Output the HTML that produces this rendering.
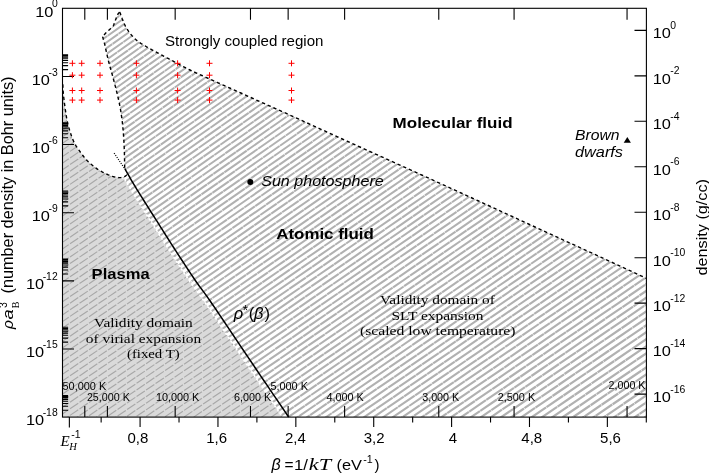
<!DOCTYPE html>
<html><head><meta charset="utf-8"><title>Phase diagram</title>
<style>html,body{margin:0;padding:0;background:#fff;}svg{display:block;will-change:transform;}</style></head>
<body>
<svg width="709" height="474" viewBox="0 0 709 474">
<defs>
<clipPath id="cpP"><path d="M62.50 84.40 L62.80 84.40 L62.82 84.81 L62.85 85.30 L62.87 85.88 L62.90 86.53 L62.93 87.24 L62.97 87.99 L63.01 88.79 L63.06 89.61 L63.11 90.46 L63.16 91.31 L63.23 92.16 L63.30 93.00 L63.38 93.84 L63.46 94.69 L63.55 95.56 L63.64 96.44 L63.74 97.34 L63.84 98.27 L63.95 99.21 L64.07 100.18 L64.19 101.17 L64.32 102.19 L64.46 103.23 L64.60 104.30 L64.75 105.42 L64.91 106.60 L65.08 107.82 L65.25 109.09 L65.43 110.37 L65.61 111.67 L65.80 112.97 L66.00 114.25 L66.19 115.51 L66.39 116.72 L66.60 117.89 L66.80 119.00 L67.00 120.04 L67.20 121.03 L67.40 121.98 L67.60 122.90 L67.80 123.79 L68.01 124.66 L68.22 125.53 L68.45 126.39 L68.69 127.26 L68.94 128.15 L69.21 129.06 L69.50 130.00 L69.81 130.98 L70.13 131.99 L70.47 133.02 L70.82 134.06 L71.19 135.12 L71.56 136.17 L71.95 137.22 L72.34 138.25 L72.75 139.26 L73.16 140.24 L73.58 141.19 L74.00 142.10 L74.43 142.96 L74.86 143.79 L75.30 144.58 L75.74 145.34 L76.19 146.08 L76.66 146.81 L77.13 147.53 L77.61 148.25 L78.11 148.97 L78.63 149.69 L79.15 150.44 L79.70 151.20 L80.26 151.98 L80.84 152.78 L81.42 153.58 L82.03 154.40 L82.64 155.21 L83.27 156.02 L83.91 156.83 L84.56 157.64 L85.23 158.43 L85.91 159.20 L86.60 159.96 L87.30 160.70 L88.03 161.43 L88.79 162.15 L89.58 162.88 L90.40 163.60 L91.22 164.30 L92.05 164.99 L92.88 165.67 L93.69 166.31 L94.49 166.94 L95.26 167.53 L96.00 168.08 L96.70 168.60 L97.35 169.07 L97.97 169.50 L98.55 169.88 L99.10 170.24 L99.64 170.56 L100.16 170.87 L100.68 171.16 L101.21 171.44 L101.75 171.72 L102.30 172.00 L102.89 172.29 L103.50 172.60 L104.15 172.92 L104.83 173.25 L105.53 173.58 L106.24 173.91 L106.97 174.24 L107.70 174.56 L108.43 174.88 L109.16 175.18 L109.87 175.46 L110.57 175.73 L111.25 175.98 L111.90 176.20 L112.53 176.40 L113.15 176.58 L113.77 176.75 L114.38 176.90 L114.97 177.03 L115.56 177.15 L116.12 177.26 L116.68 177.35 L117.21 177.43 L117.73 177.50 L118.23 177.55 L118.70 177.60 L119.15 177.63 L119.58 177.65 L119.99 177.65 L120.38 177.63 L120.60 177.60 L124.24 178.56 L125.39 180.56 L126.63 182.66 L127.94 184.88 L129.33 187.19 L130.80 189.60 L132.41 192.21 L134.21 195.10 L136.17 198.22 L138.24 201.51 L140.39 204.91 L142.58 208.38 L144.78 211.84 L146.95 215.26 L149.06 218.57 L151.06 221.72 L152.92 224.64 L154.60 227.30 L156.10 229.67 L157.46 231.81 L158.69 233.77 L159.83 235.57 L160.90 237.27 L161.94 238.91 L162.96 240.51 L163.99 242.14 L165.07 243.82 L166.21 245.59 L167.44 247.51 L168.80 249.60 L170.28 251.88 L171.86 254.31 L173.51 256.86 L175.22 259.49 L176.98 262.18 L178.75 264.89 L180.53 267.60 L182.29 270.28 L184.02 272.89 L185.69 275.40 L187.29 277.78 L188.80 280.00 L190.17 281.98 L191.38 283.69 L192.48 285.21 L193.50 286.59 L194.48 287.91 L195.47 289.23 L196.51 290.61 L197.64 292.12 L198.89 293.83 L200.30 295.80 L201.93 298.10 L203.80 300.80 L205.99 304.00 L208.51 307.69 L211.28 311.79 L214.25 316.18 L217.34 320.77 L220.49 325.45 L223.64 330.13 L226.72 334.71 L229.66 339.09 L232.40 343.16 L234.87 346.83 L237.00 350.00 L238.76 352.60 L240.18 354.71 L241.33 356.42 L242.27 357.83 L243.08 359.03 L243.82 360.13 L244.56 361.22 L245.36 362.41 L246.29 363.78 L247.41 365.44 L248.79 367.48 L250.50 370.00 L252.62 373.13 L255.13 376.83 L257.95 380.97 L260.98 385.44 L264.14 390.09 L267.34 394.80 L270.50 399.44 L273.52 403.89 L276.32 408.00 L278.80 411.66 L280.89 414.74 L282.50 417.10 L62.50 417.10 Z"/></clipPath>
<clipPath id="cpS"><path d="M124.70 168.50 L124.69 167.75 L124.67 166.82 L124.66 165.73 L124.64 164.50 L124.62 163.16 L124.59 161.74 L124.57 160.28 L124.54 158.78 L124.51 157.29 L124.48 155.83 L124.44 154.42 L124.40 153.10 L124.36 151.83 L124.31 150.57 L124.27 149.31 L124.22 148.05 L124.17 146.79 L124.11 145.54 L124.05 144.28 L123.99 143.03 L123.93 141.78 L123.86 140.52 L123.78 139.26 L123.70 138.00 L123.61 136.73 L123.53 135.45 L123.43 134.16 L123.33 132.87 L123.23 131.58 L123.12 130.29 L123.01 129.00 L122.90 127.73 L122.78 126.47 L122.66 125.22 L122.53 124.00 L122.40 122.80 L122.26 121.61 L122.12 120.43 L121.97 119.25 L121.81 118.09 L121.65 116.93 L121.49 115.79 L121.32 114.68 L121.16 113.58 L120.99 112.51 L120.82 111.47 L120.66 110.47 L120.50 109.50 L120.34 108.58 L120.19 107.71 L120.04 106.89 L119.89 106.11 L119.74 105.35 L119.59 104.61 L119.44 103.87 L119.29 103.14 L119.12 102.39 L118.96 101.63 L118.78 100.83 L118.60 100.00 L118.41 99.14 L118.22 98.28 L118.02 97.40 L117.81 96.52 L117.61 95.62 L117.39 94.72 L117.18 93.80 L116.95 92.87 L116.72 91.93 L116.49 90.97 L116.25 89.99 L116.00 89.00 L115.75 87.99 L115.48 86.95 L115.21 85.89 L114.93 84.81 L114.65 83.73 L114.36 82.62 L114.07 81.52 L113.78 80.41 L113.48 79.30 L113.19 78.19 L112.89 77.09 L112.60 76.00 L112.30 74.91 L112.00 73.81 L111.69 72.70 L111.38 71.59 L111.06 70.48 L110.75 69.38 L110.44 68.27 L110.13 67.19 L109.83 66.11 L109.54 65.05 L109.27 64.01 L109.00 63.00 L108.75 62.00 L108.50 61.01 L108.26 60.03 L108.03 59.07 L107.80 58.11 L107.58 57.17 L107.37 56.26 L107.16 55.36 L106.96 54.48 L106.77 53.62 L106.58 52.80 L106.40 52.00 L106.23 51.23 L106.06 50.48 L105.90 49.75 L105.75 49.04 L105.61 48.36 L105.47 47.70 L105.33 47.06 L105.20 46.44 L105.08 45.85 L104.95 45.28 L104.82 44.73 L104.70 44.20 L104.58 43.70 L104.45 43.23 L104.34 42.79 L104.22 42.37 L104.10 41.98 L103.99 41.60 L103.89 41.24 L103.78 40.90 L103.68 40.56 L103.58 40.24 L103.49 39.92 L103.40 39.60 L103.31 39.28 L103.23 38.97 L103.15 38.67 L103.07 38.37 L102.99 38.08 L102.92 37.81 L102.85 37.56 L102.79 37.32 L102.73 37.10 L102.68 36.91 L102.64 36.74 L102.60 36.60 L102.60 36.60 L102.96 36.19 L103.45 35.61 L104.04 34.94 L104.68 34.21 L105.35 33.48 L106.00 32.80 L106.67 32.16 L107.39 31.50 L108.13 30.84 L108.87 30.20 L109.57 29.58 L110.20 29.00 L110.77 28.48 L111.31 28.01 L111.81 27.57 L112.27 27.13 L112.70 26.65 L113.10 26.10 L113.44 25.51 L113.72 24.89 L113.97 24.24 L114.21 23.54 L114.48 22.77 L114.80 21.90 L115.19 20.87 L115.62 19.68 L116.08 18.42 L116.54 17.17 L116.99 16.04 L117.40 15.10 L117.80 14.36 L118.21 13.74 L118.61 13.22 L118.97 12.81 L119.28 12.47 L119.50 12.20 L119.50 12.20 L119.53 12.24 L119.57 12.27 L119.60 12.28 L119.64 12.30 L119.69 12.33 L119.74 12.38 L119.81 12.44 L119.88 12.54 L119.96 12.68 L120.06 12.86 L120.17 13.10 L120.30 13.40 L120.45 13.77 L120.61 14.21 L120.79 14.71 L120.99 15.26 L121.20 15.84 L121.41 16.46 L121.64 17.09 L121.87 17.73 L122.10 18.38 L122.33 19.01 L122.57 19.62 L122.80 20.20 L123.03 20.76 L123.26 21.33 L123.50 21.90 L123.73 22.47 L123.97 23.04 L124.22 23.61 L124.47 24.17 L124.72 24.73 L124.98 25.28 L125.25 25.83 L125.52 26.37 L125.80 26.90 L126.09 27.42 L126.38 27.94 L126.68 28.46 L126.99 28.97 L127.31 29.48 L127.62 29.97 L127.95 30.47 L128.27 30.95 L128.60 31.43 L128.93 31.90 L129.27 32.35 L129.60 32.80 L129.93 33.23 L130.27 33.65 L130.60 34.06 L130.94 34.46 L131.28 34.85 L131.62 35.23 L131.97 35.61 L132.32 35.99 L132.68 36.36 L133.04 36.74 L133.42 37.12 L133.80 37.50 L134.18 37.88 L134.55 38.26 L134.92 38.64 L135.29 39.01 L135.66 39.38 L136.04 39.75 L136.45 40.12 L136.87 40.50 L137.32 40.89 L137.81 41.28 L138.33 41.69 L138.90 42.10 L139.50 42.52 L140.11 42.93 L140.73 43.34 L141.38 43.75 L142.06 44.17 L142.77 44.59 L143.52 45.04 L144.31 45.50 L145.15 45.98 L146.04 46.49 L146.99 47.03 L148.00 47.60 L149.10 48.22 L150.30 48.89 L151.59 49.59 L152.93 50.33 L154.33 51.09 L155.76 51.86 L157.20 52.64 L158.63 53.41 L160.05 54.18 L161.43 54.92 L162.75 55.63 L164.00 56.30 L165.19 56.94 L166.34 57.56 L167.46 58.15 L168.56 58.74 L169.63 59.31 L170.69 59.87 L171.74 60.42 L172.78 60.97 L173.82 61.52 L174.87 62.08 L175.93 62.63 L177.00 63.20 L178.04 63.75 L179.02 64.28 L179.96 64.79 L180.87 65.30 L181.79 65.80 L182.72 66.31 L183.70 66.83 L184.75 67.38 L185.88 67.96 L187.12 68.59 L188.48 69.27 L190.00 70.00 L191.68 70.80 L193.52 71.66 L195.48 72.57 L197.55 73.52 L199.70 74.50 L201.92 75.51 L204.19 76.54 L206.47 77.57 L208.76 78.60 L211.02 79.62 L213.24 80.63 L215.40 81.60 L217.52 82.56 L219.63 83.51 L221.75 84.46 L223.87 85.41 L225.99 86.36 L228.11 87.31 L230.22 88.26 L232.34 89.21 L234.46 90.15 L236.57 91.10 L238.69 92.05 L240.80 93.00 L242.91 93.95 L245.02 94.90 L247.13 95.85 L249.24 96.80 L251.34 97.75 L253.45 98.70 L255.56 99.65 L257.66 100.60 L259.77 101.55 L261.88 102.50 L263.99 103.45 L266.10 104.40 L268.13 105.31 L270.03 106.16 L271.85 106.97 L273.62 107.76 L275.39 108.55 L277.21 109.36 L279.11 110.21 L281.15 111.13 L283.36 112.12 L285.80 113.22 L288.49 114.44 L291.50 115.80 L294.80 117.30 L298.35 118.92 L302.11 120.64 L306.07 122.45 L310.21 124.34 L314.50 126.31 L318.93 128.33 L323.46 130.41 L328.09 132.52 L332.79 134.67 L337.53 136.83 L342.30 139.00 L347.15 141.20 L352.16 143.47 L357.29 145.80 L362.53 148.17 L367.86 150.58 L373.26 153.02 L378.71 155.48 L384.20 157.97 L389.70 160.46 L395.19 162.95 L400.67 165.43 L406.10 167.90 L411.49 170.35 L416.87 172.80 L422.24 175.25 L427.61 177.70 L432.99 180.15 L438.41 182.63 L443.85 185.11 L449.35 187.63 L454.90 190.17 L460.52 192.74 L466.21 195.35 L472.00 198.00 L477.96 200.74 L484.15 203.58 L490.49 206.50 L496.96 209.47 L503.47 212.47 L509.99 215.48 L516.46 218.45 L522.82 221.39 L529.02 224.24 L535.00 227.00 L540.71 229.62 L546.10 232.10 L551.15 234.42 L555.93 236.61 L560.47 238.69 L564.81 240.68 L568.98 242.59 L573.04 244.45 L577.01 246.27 L580.93 248.06 L584.84 249.86 L588.78 251.66 L592.79 253.51 L596.90 255.40 L601.23 257.40 L605.80 259.50 L610.53 261.69 L615.33 263.91 L620.12 266.13 L624.82 268.31 L629.35 270.40 L633.61 272.38 L637.54 274.19 L641.03 275.81 L644.01 277.19 L646.40 278.30 L646.40 417.10 L282.50 417.10 L280.89 414.74 L278.80 411.66 L276.32 408.00 L273.52 403.89 L270.50 399.44 L267.34 394.80 L264.14 390.09 L260.98 385.44 L257.95 380.97 L255.13 376.83 L252.62 373.13 L250.50 370.00 L248.79 367.48 L247.41 365.44 L246.29 363.78 L245.36 362.41 L244.56 361.22 L243.82 360.13 L243.08 359.03 L242.27 357.83 L241.33 356.42 L240.18 354.71 L238.76 352.60 L237.00 350.00 L234.87 346.83 L232.40 343.16 L229.66 339.09 L226.72 334.71 L223.64 330.13 L220.49 325.45 L217.34 320.77 L214.25 316.18 L211.28 311.79 L208.51 307.69 L205.99 304.00 L203.80 300.80 L201.93 298.10 L200.30 295.80 L198.89 293.83 L197.64 292.12 L196.51 290.61 L195.47 289.23 L194.48 287.91 L193.50 286.59 L192.48 285.21 L191.38 283.69 L190.17 281.98 L188.80 280.00 L187.29 277.78 L185.69 275.40 L184.02 272.89 L182.29 270.28 L180.53 267.60 L178.75 264.89 L176.98 262.18 L175.22 259.49 L173.51 256.86 L171.86 254.31 L170.28 251.88 L168.80 249.60 L167.44 247.51 L166.21 245.59 L165.07 243.82 L163.99 242.14 L162.96 240.51 L161.94 238.91 L160.90 237.27 L159.83 235.57 L158.69 233.77 L157.46 231.81 L156.10 229.67 L154.60 227.30 L152.92 224.64 L151.06 221.72 L149.06 218.57 L146.95 215.26 L144.78 211.84 L142.58 208.38 L140.39 204.91 L138.24 201.51 L136.17 198.22 L134.21 195.10 L132.41 192.21 L130.80 189.60 L129.33 187.19 L127.94 184.88 L126.63 182.66 L125.39 180.56 L124.24 178.56 L120.60 177.60 L120.75 177.61 L121.11 177.57 L121.46 177.52 L121.79 177.47 L122.10 177.41 L122.41 177.34 L122.71 177.27 L123.00 177.20 L123.28 177.13 L123.54 177.05 L123.79 176.96 L124.03 176.87 L124.25 176.77 L124.46 176.67 L124.67 176.56 L124.86 176.44 L125.05 176.32 L125.24 176.18 L125.42 176.05 L125.60 175.90 L125.78 175.74 L125.96 175.55 L126.13 175.34 L126.30 175.12 L126.46 174.90 L126.61 174.67 L126.76 174.45 L126.89 174.23 L127.02 174.04 L127.13 173.86 L127.22 173.71 L127.30 173.60 Z"/></clipPath>
<mask id="mk" maskUnits="userSpaceOnUse" x="0" y="0" width="709" height="474"><rect width="709" height="474" fill="#fff"/></mask>
</defs>
<rect width="709" height="474" fill="#fff"/>
<path d="M62.50 84.40 L62.80 84.40 L62.82 84.81 L62.85 85.30 L62.87 85.88 L62.90 86.53 L62.93 87.24 L62.97 87.99 L63.01 88.79 L63.06 89.61 L63.11 90.46 L63.16 91.31 L63.23 92.16 L63.30 93.00 L63.38 93.84 L63.46 94.69 L63.55 95.56 L63.64 96.44 L63.74 97.34 L63.84 98.27 L63.95 99.21 L64.07 100.18 L64.19 101.17 L64.32 102.19 L64.46 103.23 L64.60 104.30 L64.75 105.42 L64.91 106.60 L65.08 107.82 L65.25 109.09 L65.43 110.37 L65.61 111.67 L65.80 112.97 L66.00 114.25 L66.19 115.51 L66.39 116.72 L66.60 117.89 L66.80 119.00 L67.00 120.04 L67.20 121.03 L67.40 121.98 L67.60 122.90 L67.80 123.79 L68.01 124.66 L68.22 125.53 L68.45 126.39 L68.69 127.26 L68.94 128.15 L69.21 129.06 L69.50 130.00 L69.81 130.98 L70.13 131.99 L70.47 133.02 L70.82 134.06 L71.19 135.12 L71.56 136.17 L71.95 137.22 L72.34 138.25 L72.75 139.26 L73.16 140.24 L73.58 141.19 L74.00 142.10 L74.43 142.96 L74.86 143.79 L75.30 144.58 L75.74 145.34 L76.19 146.08 L76.66 146.81 L77.13 147.53 L77.61 148.25 L78.11 148.97 L78.63 149.69 L79.15 150.44 L79.70 151.20 L80.26 151.98 L80.84 152.78 L81.42 153.58 L82.03 154.40 L82.64 155.21 L83.27 156.02 L83.91 156.83 L84.56 157.64 L85.23 158.43 L85.91 159.20 L86.60 159.96 L87.30 160.70 L88.03 161.43 L88.79 162.15 L89.58 162.88 L90.40 163.60 L91.22 164.30 L92.05 164.99 L92.88 165.67 L93.69 166.31 L94.49 166.94 L95.26 167.53 L96.00 168.08 L96.70 168.60 L97.35 169.07 L97.97 169.50 L98.55 169.88 L99.10 170.24 L99.64 170.56 L100.16 170.87 L100.68 171.16 L101.21 171.44 L101.75 171.72 L102.30 172.00 L102.89 172.29 L103.50 172.60 L104.15 172.92 L104.83 173.25 L105.53 173.58 L106.24 173.91 L106.97 174.24 L107.70 174.56 L108.43 174.88 L109.16 175.18 L109.87 175.46 L110.57 175.73 L111.25 175.98 L111.90 176.20 L112.53 176.40 L113.15 176.58 L113.77 176.75 L114.38 176.90 L114.97 177.03 L115.56 177.15 L116.12 177.26 L116.68 177.35 L117.21 177.43 L117.73 177.50 L118.23 177.55 L118.70 177.60 L119.15 177.63 L119.58 177.65 L119.99 177.65 L120.38 177.63 L120.60 177.60 L124.24 178.56 L125.39 180.56 L126.63 182.66 L127.94 184.88 L129.33 187.19 L130.80 189.60 L132.41 192.21 L134.21 195.10 L136.17 198.22 L138.24 201.51 L140.39 204.91 L142.58 208.38 L144.78 211.84 L146.95 215.26 L149.06 218.57 L151.06 221.72 L152.92 224.64 L154.60 227.30 L156.10 229.67 L157.46 231.81 L158.69 233.77 L159.83 235.57 L160.90 237.27 L161.94 238.91 L162.96 240.51 L163.99 242.14 L165.07 243.82 L166.21 245.59 L167.44 247.51 L168.80 249.60 L170.28 251.88 L171.86 254.31 L173.51 256.86 L175.22 259.49 L176.98 262.18 L178.75 264.89 L180.53 267.60 L182.29 270.28 L184.02 272.89 L185.69 275.40 L187.29 277.78 L188.80 280.00 L190.17 281.98 L191.38 283.69 L192.48 285.21 L193.50 286.59 L194.48 287.91 L195.47 289.23 L196.51 290.61 L197.64 292.12 L198.89 293.83 L200.30 295.80 L201.93 298.10 L203.80 300.80 L205.99 304.00 L208.51 307.69 L211.28 311.79 L214.25 316.18 L217.34 320.77 L220.49 325.45 L223.64 330.13 L226.72 334.71 L229.66 339.09 L232.40 343.16 L234.87 346.83 L237.00 350.00 L238.76 352.60 L240.18 354.71 L241.33 356.42 L242.27 357.83 L243.08 359.03 L243.82 360.13 L244.56 361.22 L245.36 362.41 L246.29 363.78 L247.41 365.44 L248.79 367.48 L250.50 370.00 L252.62 373.13 L255.13 376.83 L257.95 380.97 L260.98 385.44 L264.14 390.09 L267.34 394.80 L270.50 399.44 L273.52 403.89 L276.32 408.00 L278.80 411.66 L280.89 414.74 L282.50 417.10 L62.50 417.10 Z" fill="#dadada"/>
<g clip-path="url(#cpP)"><path d="M60.50 58.86 L300.00 -104.00 M60.50 65.46 L300.00 -97.40 M60.50 72.06 L300.00 -90.80 M60.50 78.66 L300.00 -84.20 M60.50 85.26 L300.00 -77.60 M60.50 91.86 L300.00 -71.00 M60.50 98.46 L300.00 -64.40 M60.50 105.06 L300.00 -57.80 M60.50 111.66 L300.00 -51.20 M60.50 118.26 L300.00 -44.60 M60.50 124.86 L300.00 -38.00 M60.50 131.46 L300.00 -31.40 M60.50 138.06 L300.00 -24.80 M60.50 144.66 L300.00 -18.20 M60.50 151.26 L300.00 -11.60 M60.50 157.86 L300.00 -5.00 M60.50 164.46 L300.00 1.60 M60.50 171.06 L300.00 8.20 M60.50 177.66 L300.00 14.80 M60.50 184.26 L300.00 21.40 M60.50 190.86 L300.00 28.00 M60.50 197.46 L300.00 34.60 M60.50 204.06 L300.00 41.20 M60.50 210.66 L300.00 47.80 M60.50 217.26 L300.00 54.40 M60.50 223.86 L300.00 61.00 M60.50 230.46 L300.00 67.60 M60.50 237.06 L300.00 74.20 M60.50 243.66 L300.00 80.80 M60.50 250.26 L300.00 87.40 M60.50 256.86 L300.00 94.00 M60.50 263.46 L300.00 100.60 M60.50 270.06 L300.00 107.20 M60.50 276.66 L300.00 113.80 M60.50 283.26 L300.00 120.40 M60.50 289.86 L300.00 127.00 M60.50 296.46 L300.00 133.60 M60.50 303.06 L300.00 140.20 M60.50 309.66 L300.00 146.80 M60.50 316.26 L300.00 153.40 M60.50 322.86 L300.00 160.00 M60.50 329.46 L300.00 166.60 M60.50 336.06 L300.00 173.20 M60.50 342.66 L300.00 179.80 M60.50 349.26 L300.00 186.40 M60.50 355.86 L300.00 193.00 M60.50 362.46 L300.00 199.60 M60.50 369.06 L300.00 206.20 M60.50 375.66 L300.00 212.80 M60.50 382.26 L300.00 219.40 M60.50 388.86 L300.00 226.00 M60.50 395.46 L300.00 232.60 M60.50 402.06 L300.00 239.20 M60.50 408.66 L300.00 245.80 M60.50 415.26 L300.00 252.40 M60.50 421.86 L300.00 259.00 M60.50 428.46 L300.00 265.60 M60.50 435.06 L300.00 272.20 M60.50 441.66 L300.00 278.80 M60.50 448.26 L300.00 285.40 M60.50 454.86 L300.00 292.00 M60.50 461.46 L300.00 298.60 M60.50 468.06 L300.00 305.20 M60.50 474.66 L300.00 311.80 M60.50 481.26 L300.00 318.40 M60.50 487.86 L300.00 325.00 M60.50 494.46 L300.00 331.60 M60.50 501.06 L300.00 338.20 M60.50 507.66 L300.00 344.80 M60.50 514.26 L300.00 351.40 M60.50 520.86 L300.00 358.00 M60.50 527.46 L300.00 364.60 M60.50 534.06 L300.00 371.20 M60.50 540.66 L300.00 377.80 M60.50 547.26 L300.00 384.40 M60.50 553.86 L300.00 391.00 M60.50 560.46 L300.00 397.60 M60.50 567.06 L300.00 404.20 M60.50 573.66 L300.00 410.80 M60.50 580.26 L300.00 417.40 M60.50 586.86 L300.00 424.00 M60.50 593.46 L300.00 430.60 M60.50 600.06 L300.00 437.20 M60.50 606.66 L300.00 443.80 M60.50 613.26 L300.00 450.40 M60.50 619.86 L300.00 457.00 M60.50 626.46 L300.00 463.60 M60.50 633.06 L300.00 470.20 M60.50 639.66 L300.00 476.80 M60.50 646.26 L300.00 483.40 M60.50 652.86 L300.00 490.00" stroke="#a8a8a8" stroke-width="1.15" fill="none" stroke-dasharray="10 1.5"/></g>
<g clip-path="url(#cpS)" stroke="#b1b1b1" fill="none" stroke-dasharray="20.1 0.5">
<path d="M60.50 17.05 L648.40 -400.36" stroke-width="1.94" stroke-dashoffset="0.0"/><path d="M60.50 22.84 L648.40 -394.56" stroke-width="1.94" stroke-dashoffset="7.3"/><path d="M60.50 28.64 L648.40 -388.76" stroke-width="1.94" stroke-dashoffset="14.6"/><path d="M60.50 34.44 L648.40 -382.96" stroke-width="1.94" stroke-dashoffset="1.3"/><path d="M60.50 40.24 L648.40 -377.16" stroke-width="1.94" stroke-dashoffset="8.6"/><path d="M60.50 46.04 L648.40 -371.36" stroke-width="1.94" stroke-dashoffset="15.9"/><path d="M60.50 51.84 L648.40 -365.56" stroke-width="1.94" stroke-dashoffset="2.6"/><path d="M60.50 57.64 L648.40 -359.76" stroke-width="1.94" stroke-dashoffset="9.9"/><path d="M60.50 63.44 L648.40 -353.96" stroke-width="1.94" stroke-dashoffset="17.2"/><path d="M60.50 69.24 L648.40 -348.16" stroke-width="1.94" stroke-dashoffset="3.9"/><path d="M60.50 75.04 L648.40 -342.36" stroke-width="1.94" stroke-dashoffset="11.2"/><path d="M60.50 80.84 L648.40 -336.56" stroke-width="1.94" stroke-dashoffset="18.5"/><path d="M60.50 86.64 L648.40 -330.76" stroke-width="1.94" stroke-dashoffset="5.2"/><path d="M60.50 92.44 L648.40 -324.96" stroke-width="1.94" stroke-dashoffset="12.5"/><path d="M60.50 98.24 L648.40 -319.16" stroke-width="1.94" stroke-dashoffset="19.8"/><path d="M60.50 104.05 L648.40 -313.36" stroke-width="1.94" stroke-dashoffset="6.5"/><path d="M60.50 109.86 L648.40 -307.44" stroke-width="1.94" stroke-dashoffset="13.8"/><path d="M60.50 115.68 L648.40 -301.39" stroke-width="1.94" stroke-dashoffset="0.5"/><path d="M60.50 121.50 L648.40 -295.34" stroke-width="1.94" stroke-dashoffset="7.8"/><path d="M60.50 127.33 L648.40 -289.29" stroke-width="1.94" stroke-dashoffset="15.1"/><path d="M60.50 133.15 L648.40 -283.24" stroke-width="1.94" stroke-dashoffset="1.8"/><path d="M60.50 138.97 L648.40 -277.19" stroke-width="1.94" stroke-dashoffset="9.1"/><path d="M60.50 144.80 L648.40 -271.14" stroke-width="1.94" stroke-dashoffset="16.4"/><path d="M60.50 150.62 L648.40 -265.09" stroke-width="1.94" stroke-dashoffset="3.1"/><path d="M60.50 156.44 L648.40 -259.04" stroke-width="1.94" stroke-dashoffset="10.4"/><path d="M60.50 162.27 L648.40 -252.99" stroke-width="1.94" stroke-dashoffset="17.7"/><path d="M60.50 168.10 L648.40 -246.93" stroke-width="1.95" stroke-dashoffset="4.4"/><path d="M60.50 173.94 L648.40 -240.86" stroke-width="1.95" stroke-dashoffset="11.7"/><path d="M60.50 179.79 L648.40 -234.78" stroke-width="1.95" stroke-dashoffset="19.0"/><path d="M60.50 185.65 L648.40 -228.69" stroke-width="1.95" stroke-dashoffset="5.7"/><path d="M60.50 191.52 L648.40 -222.59" stroke-width="1.95" stroke-dashoffset="13.0"/><path d="M60.50 197.40 L648.40 -216.49" stroke-width="1.96" stroke-dashoffset="20.3"/><path d="M60.50 203.28 L648.40 -210.37" stroke-width="1.96" stroke-dashoffset="7.0"/><path d="M60.50 209.18 L648.40 -204.24" stroke-width="1.96" stroke-dashoffset="14.3"/><path d="M60.50 215.09 L648.40 -198.10" stroke-width="1.96" stroke-dashoffset="1.0"/><path d="M60.50 221.00 L648.40 -191.96" stroke-width="1.96" stroke-dashoffset="8.3"/><path d="M60.50 226.93 L648.40 -185.80" stroke-width="1.97" stroke-dashoffset="15.6"/><path d="M60.50 232.86 L648.40 -179.63" stroke-width="1.97" stroke-dashoffset="2.3"/><path d="M60.50 238.81 L648.40 -173.46" stroke-width="1.97" stroke-dashoffset="9.6"/><path d="M60.50 244.76 L648.40 -167.27" stroke-width="1.97" stroke-dashoffset="16.9"/><path d="M60.50 250.72 L648.40 -161.08" stroke-width="1.98" stroke-dashoffset="3.6"/><path d="M60.50 256.70 L648.40 -154.87" stroke-width="1.98" stroke-dashoffset="10.9"/><path d="M60.50 262.68 L648.40 -148.65" stroke-width="1.98" stroke-dashoffset="18.2"/><path d="M60.50 268.67 L648.40 -142.43" stroke-width="1.98" stroke-dashoffset="4.9"/><path d="M60.50 274.67 L648.40 -136.19" stroke-width="1.98" stroke-dashoffset="12.2"/><path d="M60.50 280.69 L648.40 -129.95" stroke-width="1.99" stroke-dashoffset="19.5"/><path d="M60.50 286.71 L648.40 -123.69" stroke-width="1.99" stroke-dashoffset="6.2"/><path d="M60.50 292.74 L648.40 -117.42" stroke-width="1.99" stroke-dashoffset="13.5"/><path d="M60.50 298.78 L648.40 -111.15" stroke-width="1.99" stroke-dashoffset="0.2"/><path d="M60.50 304.83 L648.40 -104.86" stroke-width="1.99" stroke-dashoffset="7.5"/><path d="M60.50 310.89 L648.40 -98.57" stroke-width="2.00" stroke-dashoffset="14.8"/><path d="M60.50 316.96 L648.40 -92.26" stroke-width="2.00" stroke-dashoffset="1.5"/><path d="M60.50 323.03 L648.40 -85.94" stroke-width="2.00" stroke-dashoffset="8.8"/><path d="M60.50 329.12 L648.40 -79.62" stroke-width="2.00" stroke-dashoffset="16.1"/><path d="M60.50 335.22 L648.40 -73.28" stroke-width="2.00" stroke-dashoffset="2.8"/><path d="M60.50 341.33 L648.40 -66.93" stroke-width="2.01" stroke-dashoffset="10.1"/><path d="M60.50 347.45 L648.40 -60.58" stroke-width="2.01" stroke-dashoffset="17.4"/><path d="M60.50 353.58 L648.40 -54.21" stroke-width="2.01" stroke-dashoffset="4.1"/><path d="M60.50 359.71 L648.40 -47.83" stroke-width="2.01" stroke-dashoffset="11.4"/><path d="M60.50 365.86 L648.40 -41.45" stroke-width="2.01" stroke-dashoffset="18.7"/><path d="M60.50 372.02 L648.40 -35.05" stroke-width="2.02" stroke-dashoffset="5.4"/><path d="M60.50 378.18 L648.40 -28.64" stroke-width="2.02" stroke-dashoffset="12.7"/><path d="M60.50 384.36 L648.40 -22.22" stroke-width="2.02" stroke-dashoffset="20.0"/><path d="M60.50 390.55 L648.40 -15.79" stroke-width="2.02" stroke-dashoffset="6.7"/><path d="M60.50 396.74 L648.40 -9.36" stroke-width="2.02" stroke-dashoffset="14.0"/><path d="M60.50 402.95 L648.40 -2.91" stroke-width="2.03" stroke-dashoffset="0.7"/><path d="M60.50 409.17 L648.40 3.53" stroke-width="2.03" stroke-dashoffset="8.0"/><path d="M60.50 415.38 L648.40 9.85" stroke-width="2.03" stroke-dashoffset="15.3"/><path d="M60.50 421.60 L648.40 16.17" stroke-width="2.03" stroke-dashoffset="2.0"/><path d="M60.50 427.82 L648.40 22.50" stroke-width="2.03" stroke-dashoffset="9.3"/><path d="M60.50 434.06 L648.40 28.84" stroke-width="2.03" stroke-dashoffset="16.6"/><path d="M60.50 440.30 L648.40 35.19" stroke-width="2.03" stroke-dashoffset="3.3"/><path d="M60.50 446.55 L648.40 41.54" stroke-width="2.04" stroke-dashoffset="10.6"/><path d="M60.50 452.81 L648.40 47.91" stroke-width="2.04" stroke-dashoffset="17.9"/><path d="M60.50 459.08 L648.40 54.28" stroke-width="2.04" stroke-dashoffset="4.6"/><path d="M60.50 465.35 L648.40 60.66" stroke-width="2.04" stroke-dashoffset="11.9"/><path d="M60.50 471.63 L648.40 67.05" stroke-width="2.04" stroke-dashoffset="19.2"/><path d="M60.50 477.92 L648.40 73.44" stroke-width="2.04" stroke-dashoffset="5.9"/><path d="M60.50 484.22 L648.40 79.85" stroke-width="2.04" stroke-dashoffset="13.2"/><path d="M60.50 490.53 L648.40 86.26" stroke-width="2.04" stroke-dashoffset="20.5"/><path d="M60.50 496.84 L648.40 92.68" stroke-width="2.04" stroke-dashoffset="7.2"/><path d="M60.50 503.16 L648.40 99.10" stroke-width="2.05" stroke-dashoffset="14.5"/><path d="M60.50 509.49 L648.40 105.54" stroke-width="2.05" stroke-dashoffset="1.2"/><path d="M60.50 515.83 L648.40 111.98" stroke-width="2.05" stroke-dashoffset="8.5"/><path d="M60.50 522.17 L648.40 118.43" stroke-width="2.05" stroke-dashoffset="15.8"/><path d="M60.50 528.53 L648.40 124.89" stroke-width="2.05" stroke-dashoffset="2.5"/><path d="M60.50 534.89 L648.40 131.36" stroke-width="2.05" stroke-dashoffset="9.8"/><path d="M60.50 541.26 L648.40 137.84" stroke-width="2.05" stroke-dashoffset="17.1"/><path d="M60.50 547.64 L648.40 144.32" stroke-width="2.05" stroke-dashoffset="3.8"/><path d="M60.50 554.02 L648.40 150.81" stroke-width="2.05" stroke-dashoffset="11.1"/><path d="M60.50 560.41 L648.40 157.31" stroke-width="2.06" stroke-dashoffset="18.4"/><path d="M60.50 566.81 L648.40 163.82" stroke-width="2.06" stroke-dashoffset="5.1"/><path d="M60.50 573.22 L648.40 170.34" stroke-width="2.06" stroke-dashoffset="12.4"/><path d="M60.50 579.64 L648.40 176.86" stroke-width="2.06" stroke-dashoffset="19.7"/><path d="M60.50 586.06 L648.40 183.40" stroke-width="2.07" stroke-dashoffset="6.4"/><path d="M60.50 592.50 L648.40 189.94" stroke-width="2.07" stroke-dashoffset="13.7"/><path d="M60.50 598.94 L648.40 196.49" stroke-width="2.07" stroke-dashoffset="0.4"/><path d="M60.50 605.39 L648.40 203.04" stroke-width="2.07" stroke-dashoffset="7.7"/><path d="M60.50 611.84 L648.40 209.61" stroke-width="2.08" stroke-dashoffset="15.0"/><path d="M60.50 618.31 L648.40 216.18" stroke-width="2.08" stroke-dashoffset="1.7"/><path d="M60.50 624.78 L648.40 222.76" stroke-width="2.08" stroke-dashoffset="9.0"/><path d="M60.50 631.26 L648.40 229.35" stroke-width="2.09" stroke-dashoffset="16.3"/><path d="M60.50 637.75 L648.40 235.95" stroke-width="2.09" stroke-dashoffset="3.0"/><path d="M60.50 644.25 L648.40 242.56" stroke-width="2.09" stroke-dashoffset="10.3"/><path d="M60.50 650.76 L648.40 249.17" stroke-width="2.10" stroke-dashoffset="17.6"/><path d="M60.50 657.28 L648.40 255.80" stroke-width="2.11" stroke-dashoffset="4.3"/><path d="M60.50 663.83 L648.40 262.46" stroke-width="2.12" stroke-dashoffset="11.6"/><path d="M60.50 670.41 L648.40 269.15" stroke-width="2.13" stroke-dashoffset="18.9"/><path d="M60.50 677.02 L648.40 275.87" stroke-width="2.14" stroke-dashoffset="5.6"/><path d="M60.50 683.66 L648.40 282.63" stroke-width="2.15" stroke-dashoffset="12.9"/><path d="M60.50 690.33 L648.40 289.41" stroke-width="2.16" stroke-dashoffset="20.2"/><path d="M60.50 697.03 L648.40 296.22" stroke-width="2.17" stroke-dashoffset="6.9"/><path d="M60.50 703.76 L648.40 303.06" stroke-width="2.18" stroke-dashoffset="14.2"/><path d="M60.50 710.52 L648.40 309.94" stroke-width="2.19" stroke-dashoffset="0.9"/><path d="M60.50 717.31 L648.40 316.85" stroke-width="2.20" stroke-dashoffset="8.2"/><path d="M60.50 724.14 L648.40 323.78" stroke-width="2.21" stroke-dashoffset="15.5"/><path d="M60.50 730.99 L648.40 330.75" stroke-width="2.22" stroke-dashoffset="2.2"/><path d="M60.50 737.88 L648.40 337.75" stroke-width="2.23" stroke-dashoffset="9.5"/><path d="M60.50 744.79 L648.40 344.79" stroke-width="2.24" stroke-dashoffset="16.8"/><path d="M60.50 751.74 L648.40 351.85" stroke-width="2.25" stroke-dashoffset="3.5"/><path d="M60.50 758.72 L648.40 358.95" stroke-width="2.26" stroke-dashoffset="10.8"/><path d="M60.50 765.72 L648.40 365.95" stroke-width="2.26" stroke-dashoffset="18.1"/><path d="M60.50 772.72 L648.40 372.95" stroke-width="2.26" stroke-dashoffset="4.8"/><path d="M60.50 779.72 L648.40 379.95" stroke-width="2.26" stroke-dashoffset="12.1"/><path d="M60.50 786.72 L648.40 386.95" stroke-width="2.26" stroke-dashoffset="19.4"/><path d="M60.50 793.72 L648.40 393.95" stroke-width="2.26" stroke-dashoffset="6.1"/><path d="M60.50 800.72 L648.40 400.95" stroke-width="2.26" stroke-dashoffset="13.4"/><path d="M60.50 807.72 L648.40 407.95" stroke-width="2.26" stroke-dashoffset="0.1"/><path d="M60.50 814.72 L648.40 414.95" stroke-width="2.26" stroke-dashoffset="7.4"/><path d="M60.50 821.72 L648.40 421.95" stroke-width="2.26" stroke-dashoffset="14.7"/><path d="M60.50 828.72 L648.40 428.95" stroke-width="2.26" stroke-dashoffset="1.4"/><path d="M60.50 835.72 L648.40 435.95" stroke-width="2.26" stroke-dashoffset="8.7"/><path d="M60.50 842.72 L648.40 442.95" stroke-width="2.26" stroke-dashoffset="16.0"/><path d="M60.50 849.72 L648.40 449.95" stroke-width="2.26" stroke-dashoffset="2.7"/><path d="M60.50 856.72 L648.40 456.95" stroke-width="2.26" stroke-dashoffset="10.0"/>
</g>
<path d="M120.60 177.60 L124.24 178.56 L125.39 180.56 L126.63 182.66 L127.94 184.88 L129.33 187.19 L130.80 189.60 L132.41 192.21 L134.21 195.10 L136.17 198.22 L138.24 201.51 L140.39 204.91 L142.58 208.38 L144.78 211.84 L146.95 215.26 L149.06 218.57 L151.06 221.72 L152.92 224.64 L154.60 227.30 L156.10 229.67 L157.46 231.81 L158.69 233.77 L159.83 235.57 L160.90 237.27 L161.94 238.91 L162.96 240.51 L163.99 242.14 L165.07 243.82 L166.21 245.59 L167.44 247.51 L168.80 249.60 L170.28 251.88 L171.86 254.31 L173.51 256.86 L175.22 259.49 L176.98 262.18 L178.75 264.89 L180.53 267.60 L182.29 270.28 L184.02 272.89 L185.69 275.40 L187.29 277.78 L188.80 280.00 L190.17 281.98 L191.38 283.69 L192.48 285.21 L193.50 286.59 L194.48 287.91 L195.47 289.23 L196.51 290.61 L197.64 292.12 L198.89 293.83 L200.30 295.80 L201.93 298.10 L203.80 300.80 L205.99 304.00 L208.51 307.69 L211.28 311.79 L214.25 316.18 L217.34 320.77 L220.49 325.45 L223.64 330.13 L226.72 334.71 L229.66 339.09 L232.40 343.16 L234.87 346.83 L237.00 350.00 L238.76 352.60 L240.18 354.71 L241.33 356.42 L242.27 357.83 L243.08 359.03 L243.82 360.13 L244.56 361.22 L245.36 362.41 L246.29 363.78 L247.41 365.44 L248.79 367.48 L250.50 370.00 L252.62 373.13 L255.13 376.83 L257.95 380.97 L260.98 385.44 L264.14 390.09 L267.34 394.80 L270.50 399.44 L273.52 403.89 L276.32 408.00 L278.80 411.66 L280.89 414.74 L282.50 417.10" stroke="#fff" stroke-width="1.6" fill="none" stroke-dasharray="2.2 2.4"/>
<path d="M119.50 12.20 L119.53 12.24 L119.57 12.27 L119.60 12.28 L119.64 12.30 L119.69 12.33 L119.74 12.38 L119.81 12.44 L119.88 12.54 L119.96 12.68 L120.06 12.86 L120.17 13.10 L120.30 13.40 L120.45 13.77 L120.61 14.21 L120.79 14.71 L120.99 15.26 L121.20 15.84 L121.41 16.46 L121.64 17.09 L121.87 17.73 L122.10 18.38 L122.33 19.01 L122.57 19.62 L122.80 20.20 L123.03 20.76 L123.26 21.33 L123.50 21.90 L123.73 22.47 L123.97 23.04 L124.22 23.61 L124.47 24.17 L124.72 24.73 L124.98 25.28 L125.25 25.83 L125.52 26.37 L125.80 26.90 L126.09 27.42 L126.38 27.94 L126.68 28.46 L126.99 28.97 L127.31 29.48 L127.62 29.97 L127.95 30.47 L128.27 30.95 L128.60 31.43 L128.93 31.90 L129.27 32.35 L129.60 32.80 L129.93 33.23 L130.27 33.65 L130.60 34.06 L130.94 34.46 L131.28 34.85 L131.62 35.23 L131.97 35.61 L132.32 35.99 L132.68 36.36 L133.04 36.74 L133.42 37.12 L133.80 37.50 L134.18 37.88 L134.55 38.26 L134.92 38.64 L135.29 39.01 L135.66 39.38 L136.04 39.75 L136.45 40.12 L136.87 40.50 L137.32 40.89 L137.81 41.28 L138.33 41.69 L138.90 42.10 L139.50 42.52 L140.11 42.93 L140.73 43.34 L141.38 43.75 L142.06 44.17 L142.77 44.59 L143.52 45.04 L144.31 45.50 L145.15 45.98 L146.04 46.49 L146.99 47.03 L148.00 47.60 L149.10 48.22 L150.30 48.89 L151.59 49.59 L152.93 50.33 L154.33 51.09 L155.76 51.86 L157.20 52.64 L158.63 53.41 L160.05 54.18 L161.43 54.92 L162.75 55.63 L164.00 56.30 L165.19 56.94 L166.34 57.56 L167.46 58.15 L168.56 58.74 L169.63 59.31 L170.69 59.87 L171.74 60.42 L172.78 60.97 L173.82 61.52 L174.87 62.08 L175.93 62.63 L177.00 63.20 L178.04 63.75 L179.02 64.28 L179.96 64.79 L180.87 65.30 L181.79 65.80 L182.72 66.31 L183.70 66.83 L184.75 67.38 L185.88 67.96 L187.12 68.59 L188.48 69.27 L190.00 70.00 L191.68 70.80 L193.52 71.66 L195.48 72.57 L197.55 73.52 L199.70 74.50 L201.92 75.51 L204.19 76.54 L206.47 77.57 L208.76 78.60 L211.02 79.62 L213.24 80.63 L215.40 81.60 L217.52 82.56 L219.63 83.51 L221.75 84.46 L223.87 85.41 L225.99 86.36 L228.11 87.31 L230.22 88.26 L232.34 89.21 L234.46 90.15 L236.57 91.10 L238.69 92.05 L240.80 93.00 L242.91 93.95 L245.02 94.90 L247.13 95.85 L249.24 96.80 L251.34 97.75 L253.45 98.70 L255.56 99.65 L257.66 100.60 L259.77 101.55 L261.88 102.50 L263.99 103.45 L266.10 104.40 L268.13 105.31 L270.03 106.16 L271.85 106.97 L273.62 107.76 L275.39 108.55 L277.21 109.36 L279.11 110.21 L281.15 111.13 L283.36 112.12 L285.80 113.22 L288.49 114.44 L291.50 115.80 L294.80 117.30 L298.35 118.92 L302.11 120.64 L306.07 122.45 L310.21 124.34 L314.50 126.31 L318.93 128.33 L323.46 130.41 L328.09 132.52 L332.79 134.67 L337.53 136.83 L342.30 139.00 L347.15 141.20 L352.16 143.47 L357.29 145.80 L362.53 148.17 L367.86 150.58 L373.26 153.02 L378.71 155.48 L384.20 157.97 L389.70 160.46 L395.19 162.95 L400.67 165.43 L406.10 167.90 L411.49 170.35 L416.87 172.80 L422.24 175.25 L427.61 177.70 L432.99 180.15 L438.41 182.63 L443.85 185.11 L449.35 187.63 L454.90 190.17 L460.52 192.74 L466.21 195.35 L472.00 198.00 L477.96 200.74 L484.15 203.58 L490.49 206.50 L496.96 209.47 L503.47 212.47 L509.99 215.48 L516.46 218.45 L522.82 221.39 L529.02 224.24 L535.00 227.00 L540.71 229.62 L546.10 232.10 L551.15 234.42 L555.93 236.61 L560.47 238.69 L564.81 240.68 L568.98 242.59 L573.04 244.45 L577.01 246.27 L580.93 248.06 L584.84 249.86 L588.78 251.66 L592.79 253.51 L596.90 255.40 L601.23 257.40 L605.80 259.50 L610.53 261.69 L615.33 263.91 L620.12 266.13 L624.82 268.31 L629.35 270.40 L633.61 272.38 L637.54 274.19 L641.03 275.81 L644.01 277.19 L646.40 278.30" stroke="#000" stroke-width="1.4" fill="none" stroke-dasharray="3.3 2.9"/>
<path d="M119.50 12.20 L119.28 12.47 L118.97 12.81 L118.61 13.22 L118.21 13.74 L117.80 14.36 L117.40 15.10 L116.99 16.04 L116.54 17.17 L116.08 18.42 L115.62 19.68 L115.19 20.87 L114.80 21.90 L114.48 22.77 L114.21 23.54 L113.97 24.24 L113.72 24.89 L113.44 25.51 L113.10 26.10 L112.70 26.65 L112.27 27.13 L111.81 27.57 L111.31 28.01 L110.77 28.48 L110.20 29.00 L109.57 29.58 L108.87 30.20 L108.13 30.84 L107.39 31.50 L106.67 32.16 L106.00 32.80 L105.35 33.48 L104.68 34.21 L104.04 34.94 L103.45 35.61 L102.96 36.19 L102.60 36.60" stroke="#000" stroke-width="1.4" fill="none" stroke-dasharray="3.3 2.9"/>
<path d="M102.60 36.60 L102.64 36.74 L102.68 36.91 L102.73 37.10 L102.79 37.32 L102.85 37.56 L102.92 37.81 L102.99 38.08 L103.07 38.37 L103.15 38.67 L103.23 38.97 L103.31 39.28 L103.40 39.60 L103.49 39.92 L103.58 40.24 L103.68 40.56 L103.78 40.90 L103.89 41.24 L103.99 41.60 L104.10 41.98 L104.22 42.37 L104.34 42.79 L104.45 43.23 L104.58 43.70 L104.70 44.20 L104.82 44.73 L104.95 45.28 L105.08 45.85 L105.20 46.44 L105.33 47.06 L105.47 47.70 L105.61 48.36 L105.75 49.04 L105.90 49.75 L106.06 50.48 L106.23 51.23 L106.40 52.00 L106.58 52.80 L106.77 53.62 L106.96 54.48 L107.16 55.36 L107.37 56.26 L107.58 57.17 L107.80 58.11 L108.03 59.07 L108.26 60.03 L108.50 61.01 L108.75 62.00 L109.00 63.00 L109.27 64.01 L109.54 65.05 L109.83 66.11 L110.13 67.19 L110.44 68.27 L110.75 69.38 L111.06 70.48 L111.38 71.59 L111.69 72.70 L112.00 73.81 L112.30 74.91 L112.60 76.00 L112.89 77.09 L113.19 78.19 L113.48 79.30 L113.78 80.41 L114.07 81.52 L114.36 82.62 L114.65 83.73 L114.93 84.81 L115.21 85.89 L115.48 86.95 L115.75 87.99 L116.00 89.00 L116.25 89.99 L116.49 90.97 L116.72 91.93 L116.95 92.87 L117.18 93.80 L117.39 94.72 L117.61 95.62 L117.81 96.52 L118.02 97.40 L118.22 98.28 L118.41 99.14 L118.60 100.00 L118.78 100.83 L118.96 101.63 L119.12 102.39 L119.29 103.14 L119.44 103.87 L119.59 104.61 L119.74 105.35 L119.89 106.11 L120.04 106.89 L120.19 107.71 L120.34 108.58 L120.50 109.50 L120.66 110.47 L120.82 111.47 L120.99 112.51 L121.16 113.58 L121.32 114.68 L121.49 115.79 L121.65 116.93 L121.81 118.09 L121.97 119.25 L122.12 120.43 L122.26 121.61 L122.40 122.80 L122.53 124.00 L122.66 125.22 L122.78 126.47 L122.90 127.73 L123.01 129.00 L123.12 130.29 L123.23 131.58 L123.33 132.87 L123.43 134.16 L123.53 135.45 L123.61 136.73 L123.70 138.00 L123.78 139.26 L123.86 140.52 L123.93 141.78 L123.99 143.03 L124.05 144.28 L124.11 145.54 L124.17 146.79 L124.22 148.05 L124.27 149.31 L124.31 150.57 L124.36 151.83 L124.40 153.10 L124.44 154.42 L124.48 155.83 L124.51 157.29 L124.54 158.78 L124.57 160.28 L124.59 161.74 L124.62 163.16 L124.64 164.50 L124.66 165.73 L124.67 166.82 L124.69 167.75 L124.70 168.50" stroke="#000" stroke-width="1.4" fill="none" stroke-dasharray="3.3 2.9"/>
<path d="M62.80 84.40 L62.82 84.81 L62.85 85.30 L62.87 85.88 L62.90 86.53 L62.93 87.24 L62.97 87.99 L63.01 88.79 L63.06 89.61 L63.11 90.46 L63.16 91.31 L63.23 92.16 L63.30 93.00 L63.38 93.84 L63.46 94.69 L63.55 95.56 L63.64 96.44 L63.74 97.34 L63.84 98.27 L63.95 99.21 L64.07 100.18 L64.19 101.17 L64.32 102.19 L64.46 103.23 L64.60 104.30 L64.75 105.42 L64.91 106.60 L65.08 107.82 L65.25 109.09 L65.43 110.37 L65.61 111.67 L65.80 112.97 L66.00 114.25 L66.19 115.51 L66.39 116.72 L66.60 117.89 L66.80 119.00 L67.00 120.04 L67.20 121.03 L67.40 121.98 L67.60 122.90 L67.80 123.79 L68.01 124.66 L68.22 125.53 L68.45 126.39 L68.69 127.26 L68.94 128.15 L69.21 129.06 L69.50 130.00 L69.81 130.98 L70.13 131.99 L70.47 133.02 L70.82 134.06 L71.19 135.12 L71.56 136.17 L71.95 137.22 L72.34 138.25 L72.75 139.26 L73.16 140.24 L73.58 141.19 L74.00 142.10 L74.43 142.96 L74.86 143.79 L75.30 144.58 L75.74 145.34 L76.19 146.08 L76.66 146.81 L77.13 147.53 L77.61 148.25 L78.11 148.97 L78.63 149.69 L79.15 150.44 L79.70 151.20 L80.26 151.98 L80.84 152.78 L81.42 153.58 L82.03 154.40 L82.64 155.21 L83.27 156.02 L83.91 156.83 L84.56 157.64 L85.23 158.43 L85.91 159.20 L86.60 159.96 L87.30 160.70 L88.03 161.43 L88.79 162.15 L89.58 162.88 L90.40 163.60 L91.22 164.30 L92.05 164.99 L92.88 165.67 L93.69 166.31 L94.49 166.94 L95.26 167.53 L96.00 168.08 L96.70 168.60 L97.35 169.07 L97.97 169.50 L98.55 169.88 L99.10 170.24 L99.64 170.56 L100.16 170.87 L100.68 171.16 L101.21 171.44 L101.75 171.72 L102.30 172.00 L102.89 172.29 L103.50 172.60 L104.15 172.92 L104.83 173.25 L105.53 173.58 L106.24 173.91 L106.97 174.24 L107.70 174.56 L108.43 174.88 L109.16 175.18 L109.87 175.46 L110.57 175.73 L111.25 175.98 L111.90 176.20 L112.53 176.40 L113.15 176.58 L113.77 176.75 L114.38 176.90 L114.97 177.03 L115.56 177.15 L116.12 177.26 L116.68 177.35 L117.21 177.43 L117.73 177.50 L118.23 177.55 L118.70 177.60 L119.15 177.63 L119.58 177.65 L119.99 177.65 L120.38 177.63 L120.75 177.61 L121.11 177.57 L121.46 177.52 L121.79 177.47 L122.10 177.41 L122.41 177.34 L122.71 177.27 L123.00 177.20 L123.28 177.13 L123.54 177.05 L123.79 176.96 L124.03 176.87 L124.25 176.77 L124.46 176.67 L124.67 176.56 L124.86 176.44 L125.05 176.32 L125.24 176.18 L125.42 176.05 L125.60 175.90 L125.78 175.74 L125.96 175.55 L126.13 175.34 L126.30 175.12 L126.46 174.90 L126.61 174.67 L126.76 174.45 L126.89 174.23 L127.02 174.04 L127.13 173.86 L127.22 173.71 L127.30 173.60" stroke="#000" stroke-width="1.4" fill="none" stroke-dasharray="3.3 2.9"/>
<path d="M114.1 153.1 L124.4 168.2" stroke="#000" stroke-width="1.2" fill="none" stroke-dasharray="1.1 1.3"/>
<path d="M124.70 168.50 L125.26 169.47 L125.91 170.60 L126.64 171.90 L127.46 173.36 L128.37 174.96 L129.36 176.69 L130.44 178.56 L131.59 180.56 L132.83 182.66 L134.14 184.88 L135.53 187.19 L137.00 189.60 L138.61 192.21 L140.41 195.10 L142.37 198.22 L144.44 201.51 L146.59 204.91 L148.78 208.38 L150.98 211.84 L153.15 215.26 L155.26 218.57 L157.26 221.72 L159.12 224.64 L160.80 227.30 L162.30 229.67 L163.66 231.81 L164.89 233.77 L166.03 235.57 L167.10 237.27 L168.14 238.91 L169.16 240.51 L170.19 242.14 L171.27 243.82 L172.41 245.59 L173.64 247.51 L175.00 249.60 L176.48 251.88 L178.06 254.31 L179.71 256.86 L181.42 259.49 L183.18 262.18 L184.95 264.89 L186.73 267.60 L188.49 270.28 L190.22 272.89 L191.89 275.40 L193.49 277.78 L195.00 280.00 L196.37 281.98 L197.58 283.69 L198.68 285.21 L199.70 286.59 L200.68 287.91 L201.67 289.23 L202.71 290.61 L203.84 292.12 L205.09 293.83 L206.50 295.80 L208.13 298.10 L210.00 300.80 L212.19 304.00 L214.71 307.69 L217.48 311.79 L220.45 316.18 L223.54 320.77 L226.69 325.45 L229.84 330.13 L232.92 334.71 L235.86 339.09 L238.60 343.16 L241.07 346.83 L243.20 350.00 L244.96 352.60 L246.38 354.71 L247.53 356.42 L248.47 357.83 L249.28 359.03 L250.02 360.13 L250.76 361.22 L251.56 362.41 L252.49 363.78 L253.61 365.44 L254.99 367.48 L256.70 370.00 L258.82 373.13 L261.33 376.83 L264.15 380.97 L267.18 385.44 L270.34 390.09 L273.54 394.80 L276.70 399.44 L279.72 403.89 L282.52 408.00 L285.00 411.66 L287.09 414.74 L288.70 417.10" stroke="#000" stroke-width="1.5" fill="none"/>
<path d="M62.50 76.43 h11.5 M62.50 69.60 h5.6 M62.50 65.60 h5.6 M62.50 62.76 h5.6 M62.50 60.56 h5.6 M62.50 58.76 h5.6 M62.50 57.24 h5.6 M62.50 55.92 h5.6 M62.50 54.76 h5.6 M62.50 144.57 h11.5 M62.50 137.73 h5.6 M62.50 133.73 h5.6 M62.50 130.89 h5.6 M62.50 128.69 h5.6 M62.50 126.89 h5.6 M62.50 125.37 h5.6 M62.50 124.06 h5.6 M62.50 122.90 h5.6 M62.50 212.70 h11.5 M62.50 205.86 h5.6 M62.50 201.86 h5.6 M62.50 199.03 h5.6 M62.50 196.83 h5.6 M62.50 195.03 h5.6 M62.50 193.51 h5.6 M62.50 192.19 h5.6 M62.50 191.03 h5.6 M62.50 280.83 h11.5 M62.50 274.00 h5.6 M62.50 270.00 h5.6 M62.50 267.16 h5.6 M62.50 264.96 h5.6 M62.50 263.16 h5.6 M62.50 261.64 h5.6 M62.50 260.32 h5.6 M62.50 259.16 h5.6 M62.50 348.97 h11.5 M62.50 342.13 h5.6 M62.50 338.13 h5.6 M62.50 335.29 h5.6 M62.50 333.09 h5.6 M62.50 331.29 h5.6 M62.50 329.77 h5.6 M62.50 328.46 h5.6 M62.50 327.30 h5.6 M62.50 410.26 h5.6 M62.50 406.26 h5.6 M62.50 403.43 h5.6 M62.50 401.23 h5.6 M62.50 399.43 h5.6 M62.50 397.91 h5.6 M62.50 396.59 h5.6 M62.50 395.43 h5.6 M646.40 30.40 h-11.9 M646.40 75.86 h-11.9 M646.40 121.32 h-11.9 M646.40 166.78 h-11.9 M646.40 212.24 h-11.9 M646.40 257.70 h-11.9 M646.40 303.16 h-11.9 M646.40 348.62 h-11.9 M646.40 394.08 h-11.9 M84.79 8.30 v11.4 M84.79 417.10 v-11.2 M107.39 8.30 v11.4 M107.39 417.10 v-11.2 M175.17 8.30 v11.4 M175.17 417.10 v-11.2 M250.48 8.30 v11.4 M250.48 417.10 v-11.2 M288.14 8.30 v11.4 M288.14 417.10 v-11.2 M344.62 8.30 v11.4 M344.62 417.10 v-11.2 M438.77 8.30 v11.4 M438.77 417.10 v-11.2 M514.08 8.30 v11.4 M514.08 417.10 v-11.2 M627.05 8.30 v11.4 M627.05 417.10 v-11.2 M69.36 417.10 v10.4 M140.08 417.10 v9.8 M217.96 417.10 v9.8 M295.84 417.10 v9.8 M373.72 417.10 v9.8 M451.60 417.10 v9.8 M529.48 417.10 v9.8 M607.36 417.10 v9.8 M101.14 417.10 v5.3 M179.02 417.10 v5.3 M256.90 417.10 v5.3 M334.78 417.10 v5.3 M412.66 417.10 v5.3 M490.54 417.10 v5.3 M568.42 417.10 v5.3 M646.30 417.10 v5.3" stroke="#000" stroke-width="1.1" fill="none"/>
<rect x="62.50" y="8.30" width="583.90" height="408.80" fill="none" stroke="#000" stroke-width="1.1"/>
<path d="M69.40 63.30 h6 M72.40 60.30 v6 M69.40 75.20 h6 M72.40 72.20 v6 M69.40 90.50 h6 M72.40 87.50 v6 M69.40 100.10 h6 M72.40 97.10 v6 M78.70 63.30 h6 M81.70 60.30 v6 M78.70 75.20 h6 M81.70 72.20 v6 M78.70 90.50 h6 M81.70 87.50 v6 M78.70 100.10 h6 M81.70 97.10 v6 M97.00 63.30 h6 M100.00 60.30 v6 M97.00 75.20 h6 M100.00 72.20 v6 M97.00 90.50 h6 M100.00 87.50 v6 M97.00 100.10 h6 M100.00 97.10 v6 M133.40 63.30 h6 M136.40 60.30 v6 M133.40 75.20 h6 M136.40 72.20 v6 M133.40 90.50 h6 M136.40 87.50 v6 M133.40 100.10 h6 M136.40 97.10 v6 M174.60 63.30 h6 M177.60 60.30 v6 M174.60 75.20 h6 M177.60 72.20 v6 M174.60 90.50 h6 M177.60 87.50 v6 M174.60 100.10 h6 M177.60 97.10 v6 M206.50 63.30 h6 M209.50 60.30 v6 M206.50 75.20 h6 M209.50 72.20 v6 M206.50 90.50 h6 M209.50 87.50 v6 M206.50 100.10 h6 M209.50 97.10 v6 M288.50 63.30 h6 M291.50 60.30 v6 M288.50 75.20 h6 M291.50 72.20 v6 M288.50 90.50 h6 M291.50 87.50 v6 M288.50 100.10 h6 M291.50 97.10 v6" stroke="#ff0000" stroke-width="1" fill="none"/>
<circle cx="250.3" cy="182" r="3" fill="#000"/>
<path d="M623.7 142.8 L630.9 142.8 L627.3 137 Z" fill="#000"/>
<g mask="url(#mk)">
<text x="57.70" y="7.40" font-size="10.40" font-family="Liberation Sans, sans-serif" text-anchor="end" >0</text>
<text x="53.42" y="16.60" font-size="15.20" font-family="Liberation Sans, sans-serif" text-anchor="end" textLength="18.2" lengthAdjust="spacingAndGlyphs" >10</text>
<text x="57.70" y="75.53" font-size="10.40" font-family="Liberation Sans, sans-serif" text-anchor="end" >-3</text>
<text x="49.95" y="84.73" font-size="15.20" font-family="Liberation Sans, sans-serif" text-anchor="end" textLength="18.2" lengthAdjust="spacingAndGlyphs" >10</text>
<text x="57.70" y="143.67" font-size="10.40" font-family="Liberation Sans, sans-serif" text-anchor="end" >-6</text>
<text x="49.95" y="152.87" font-size="15.20" font-family="Liberation Sans, sans-serif" text-anchor="end" textLength="18.2" lengthAdjust="spacingAndGlyphs" >10</text>
<text x="57.70" y="211.80" font-size="10.40" font-family="Liberation Sans, sans-serif" text-anchor="end" >-9</text>
<text x="49.95" y="221.00" font-size="15.20" font-family="Liberation Sans, sans-serif" text-anchor="end" textLength="18.2" lengthAdjust="spacingAndGlyphs" >10</text>
<text x="57.70" y="279.93" font-size="10.40" font-family="Liberation Sans, sans-serif" text-anchor="end" >-12</text>
<text x="44.17" y="289.13" font-size="15.20" font-family="Liberation Sans, sans-serif" text-anchor="end" textLength="18.2" lengthAdjust="spacingAndGlyphs" >10</text>
<text x="57.70" y="348.07" font-size="10.40" font-family="Liberation Sans, sans-serif" text-anchor="end" >-15</text>
<text x="44.17" y="357.27" font-size="15.20" font-family="Liberation Sans, sans-serif" text-anchor="end" textLength="18.2" lengthAdjust="spacingAndGlyphs" >10</text>
<text x="57.70" y="416.20" font-size="10.40" font-family="Liberation Sans, sans-serif" text-anchor="end" >-18</text>
<text x="44.17" y="425.40" font-size="15.20" font-family="Liberation Sans, sans-serif" text-anchor="end" textLength="18.2" lengthAdjust="spacingAndGlyphs" >10</text>
<text x="652.70" y="38.20" font-size="15.20" font-family="Liberation Sans, sans-serif" text-anchor="start" textLength="18.2" lengthAdjust="spacingAndGlyphs" >10</text>
<text x="670.30" y="29.00" font-size="10.40" font-family="Liberation Sans, sans-serif" text-anchor="start" >0</text>
<text x="652.70" y="83.66" font-size="15.20" font-family="Liberation Sans, sans-serif" text-anchor="start" textLength="18.2" lengthAdjust="spacingAndGlyphs" >10</text>
<text x="670.30" y="74.46" font-size="10.40" font-family="Liberation Sans, sans-serif" text-anchor="start" >-2</text>
<text x="652.70" y="129.12" font-size="15.20" font-family="Liberation Sans, sans-serif" text-anchor="start" textLength="18.2" lengthAdjust="spacingAndGlyphs" >10</text>
<text x="670.30" y="119.92" font-size="10.40" font-family="Liberation Sans, sans-serif" text-anchor="start" >-4</text>
<text x="652.70" y="174.58" font-size="15.20" font-family="Liberation Sans, sans-serif" text-anchor="start" textLength="18.2" lengthAdjust="spacingAndGlyphs" >10</text>
<text x="670.30" y="165.38" font-size="10.40" font-family="Liberation Sans, sans-serif" text-anchor="start" >-6</text>
<text x="652.70" y="220.04" font-size="15.20" font-family="Liberation Sans, sans-serif" text-anchor="start" textLength="18.2" lengthAdjust="spacingAndGlyphs" >10</text>
<text x="670.30" y="210.84" font-size="10.40" font-family="Liberation Sans, sans-serif" text-anchor="start" >-8</text>
<text x="652.70" y="265.50" font-size="15.20" font-family="Liberation Sans, sans-serif" text-anchor="start" textLength="18.2" lengthAdjust="spacingAndGlyphs" >10</text>
<text x="670.30" y="256.30" font-size="10.40" font-family="Liberation Sans, sans-serif" text-anchor="start" >-10</text>
<text x="652.70" y="310.96" font-size="15.20" font-family="Liberation Sans, sans-serif" text-anchor="start" textLength="18.2" lengthAdjust="spacingAndGlyphs" >10</text>
<text x="670.30" y="301.76" font-size="10.40" font-family="Liberation Sans, sans-serif" text-anchor="start" >-12</text>
<text x="652.70" y="356.42" font-size="15.20" font-family="Liberation Sans, sans-serif" text-anchor="start" textLength="18.2" lengthAdjust="spacingAndGlyphs" >10</text>
<text x="670.30" y="347.22" font-size="10.40" font-family="Liberation Sans, sans-serif" text-anchor="start" >-14</text>
<text x="652.70" y="401.88" font-size="15.20" font-family="Liberation Sans, sans-serif" text-anchor="start" textLength="18.2" lengthAdjust="spacingAndGlyphs" >10</text>
<text x="670.30" y="392.68" font-size="10.40" font-family="Liberation Sans, sans-serif" text-anchor="start" >-16</text>
<text x="137.90" y="442.70" font-size="15.00" font-family="Liberation Sans, sans-serif" text-anchor="middle" >0,8</text>
<text x="216.67" y="442.70" font-size="15.00" font-family="Liberation Sans, sans-serif" text-anchor="middle" >1,6</text>
<text x="295.44" y="442.70" font-size="15.00" font-family="Liberation Sans, sans-serif" text-anchor="middle" >2,4</text>
<text x="374.20" y="442.70" font-size="15.00" font-family="Liberation Sans, sans-serif" text-anchor="middle" >3,2</text>
<text x="452.97" y="442.70" font-size="15.00" font-family="Liberation Sans, sans-serif" text-anchor="middle" >4</text>
<text x="531.74" y="442.70" font-size="15.00" font-family="Liberation Sans, sans-serif" text-anchor="middle" >4,8</text>
<text x="610.51" y="442.70" font-size="15.00" font-family="Liberation Sans, sans-serif" text-anchor="middle" >5,6</text>
<text x="60.60" y="446.00" font-size="15.00" font-family="Liberation Serif, serif" text-anchor="start" font-style="italic">E</text>
<text x="69.30" y="450.30" font-size="10.50" font-family="Liberation Serif, serif" text-anchor="start" font-style="italic">H</text>
<text x="71.20" y="437.70" font-size="10.50" font-family="Liberation Sans, sans-serif" text-anchor="start" >-1</text>
<text x="62.50" y="389.80" font-size="10.30" font-family="Liberation Sans, sans-serif" text-anchor="start" textLength="43.7" lengthAdjust="spacingAndGlyphs" >50,000 K</text>
<text x="86.90" y="401.00" font-size="10.30" font-family="Liberation Sans, sans-serif" text-anchor="start" textLength="42.9" lengthAdjust="spacingAndGlyphs" >25,000 K</text>
<text x="155.90" y="401.00" font-size="10.30" font-family="Liberation Sans, sans-serif" text-anchor="start" textLength="43.4" lengthAdjust="spacingAndGlyphs" >10,000 K</text>
<text x="234.10" y="401.00" font-size="10.30" font-family="Liberation Sans, sans-serif" text-anchor="start" textLength="37.1" lengthAdjust="spacingAndGlyphs" >6,000 K</text>
<text x="270.40" y="389.60" font-size="10.30" font-family="Liberation Sans, sans-serif" text-anchor="start" textLength="37.6" lengthAdjust="spacingAndGlyphs" >5,000 K</text>
<text x="326.50" y="401.00" font-size="10.30" font-family="Liberation Sans, sans-serif" text-anchor="start" textLength="37.3" lengthAdjust="spacingAndGlyphs" >4,000 K</text>
<text x="422.20" y="400.60" font-size="10.30" font-family="Liberation Sans, sans-serif" text-anchor="start" textLength="37.0" lengthAdjust="spacingAndGlyphs" >3,000 K</text>
<text x="497.80" y="400.60" font-size="10.30" font-family="Liberation Sans, sans-serif" text-anchor="start" textLength="37.3" lengthAdjust="spacingAndGlyphs" >2,500 K</text>
<text x="608.50" y="389.40" font-size="10.30" font-family="Liberation Sans, sans-serif" text-anchor="start" textLength="37.0" lengthAdjust="spacingAndGlyphs" >2,000 K</text>
<text x="165.00" y="45.70" font-size="14.10" font-family="Liberation Sans, sans-serif" text-anchor="start" textLength="158.5" lengthAdjust="spacingAndGlyphs" >Strongly coupled region</text>
<text x="392.60" y="127.60" font-size="14.90" font-family="Liberation Sans, sans-serif" text-anchor="start" textLength="120.0" lengthAdjust="spacingAndGlyphs" font-weight="bold">Molecular fluid</text>
<text x="276.30" y="239.20" font-size="14.90" font-family="Liberation Sans, sans-serif" text-anchor="start" textLength="97.5" lengthAdjust="spacingAndGlyphs" font-weight="bold">Atomic fluid</text>
<text x="91.60" y="279.10" font-size="14.90" font-family="Liberation Sans, sans-serif" text-anchor="start" textLength="58.0" lengthAdjust="spacingAndGlyphs" font-weight="bold">Plasma</text>
<text x="261.20" y="186.00" font-size="14.00" font-family="Liberation Sans, sans-serif" text-anchor="start" textLength="122.5" lengthAdjust="spacingAndGlyphs" font-style="italic">Sun photosphere</text>
<text x="575.00" y="139.70" font-size="14.00" font-family="Liberation Sans, sans-serif" text-anchor="start" textLength="44.6" lengthAdjust="spacingAndGlyphs" font-style="italic">Brown</text>
<text x="575.00" y="157.40" font-size="14.00" font-family="Liberation Sans, sans-serif" text-anchor="start" textLength="48.0" lengthAdjust="spacingAndGlyphs" font-style="italic">dwarfs</text>
<text x="94.00" y="327.20" font-size="13.50" font-family="Liberation Serif, serif" text-anchor="start" textLength="98.8" lengthAdjust="spacingAndGlyphs" >Validity domain</text>
<text x="85.80" y="342.60" font-size="13.50" font-family="Liberation Serif, serif" text-anchor="start" textLength="115.4" lengthAdjust="spacingAndGlyphs" >of virial expansion</text>
<text x="127.00" y="357.90" font-size="13.50" font-family="Liberation Serif, serif" text-anchor="start" textLength="52.6" lengthAdjust="spacingAndGlyphs" >(fixed T)</text>
<text x="380.00" y="304.00" font-size="13.50" font-family="Liberation Serif, serif" text-anchor="start" textLength="114.8" lengthAdjust="spacingAndGlyphs" >Validity domain of</text>
<text x="391.40" y="319.60" font-size="13.50" font-family="Liberation Serif, serif" text-anchor="start" textLength="92.0" lengthAdjust="spacingAndGlyphs" >SLT expansion</text>
<text x="360.00" y="335.00" font-size="13.50" font-family="Liberation Serif, serif" text-anchor="start" textLength="155.5" lengthAdjust="spacingAndGlyphs" >(scaled low temperature)</text>
<text x="233.80" y="319.40" font-size="16.50" font-family="Liberation Sans, sans-serif" text-anchor="start" font-style="italic">ρ</text>
<text x="242.60" y="314.60" font-size="14.50" font-family="Liberation Sans, sans-serif" text-anchor="start" >*</text>
<text x="248.80" y="319.40" font-size="16.50" font-family="Liberation Sans, sans-serif" text-anchor="start" >(</text>
<text x="254.00" y="319.40" font-size="16.50" font-family="Liberation Sans, sans-serif" text-anchor="start" font-style="italic">β</text>
<text x="264.60" y="319.40" font-size="16.50" font-family="Liberation Sans, sans-serif" text-anchor="start" >)</text>
<text x="271.60" y="469.60" font-size="16.00" font-family="Liberation Sans, sans-serif" text-anchor="start" font-style="italic">β</text>
<text x="284.50" y="469.60" font-size="15.50" font-family="Liberation Sans, sans-serif" text-anchor="start" >=</text>
<text x="294.00" y="469.60" font-size="15.50" font-family="Liberation Sans, sans-serif" text-anchor="start" textLength="14.0" lengthAdjust="spacingAndGlyphs" >1/</text>
<text x="308.80" y="469.60" font-size="16.50" font-family="Liberation Serif, serif" text-anchor="start" textLength="22.3" lengthAdjust="spacingAndGlyphs" font-style="italic">kT</text>
<text x="336.50" y="469.60" font-size="15.00" font-family="Liberation Sans, sans-serif" text-anchor="start" textLength="25.5" lengthAdjust="spacingAndGlyphs" >(eV</text>
<text x="363.20" y="463.00" font-size="10.50" font-family="Liberation Sans, sans-serif" text-anchor="start" textLength="9.5" lengthAdjust="spacingAndGlyphs" >-1</text>
<text x="374.60" y="469.60" font-size="15.00" font-family="Liberation Sans, sans-serif" text-anchor="start" >)</text>
<g transform="translate(13.3 329) rotate(-90)">
<text x="0.00" y="0.00" font-size="15.50" font-family="Liberation Sans, sans-serif" text-anchor="start" font-style="italic">ρ</text>
<text x="9.40" y="0.00" font-size="15.50" font-family="Liberation Sans, sans-serif" text-anchor="start" textLength="10.2" lengthAdjust="spacingAndGlyphs" font-style="italic">a</text>
<text x="21.00" y="-6.00" font-size="10.50" font-family="Liberation Sans, sans-serif" text-anchor="start" >3</text>
<text x="20.80" y="6.00" font-size="10.00" font-family="Liberation Serif, serif" text-anchor="start" >B</text>
<text x="35.50" y="0.00" font-size="15.60" font-family="Liberation Sans, sans-serif" text-anchor="start" textLength="217.0" lengthAdjust="spacingAndGlyphs" >(number density in Bohr units)</text>
</g>
<g transform="translate(706.6 275.5) rotate(-90)">
<text x="0.00" y="0.00" font-size="15.50" font-family="Liberation Sans, sans-serif" text-anchor="start" textLength="96.5" lengthAdjust="spacingAndGlyphs" >density (g/cc)</text>
</g>
</g>
</svg>
</body></html>
